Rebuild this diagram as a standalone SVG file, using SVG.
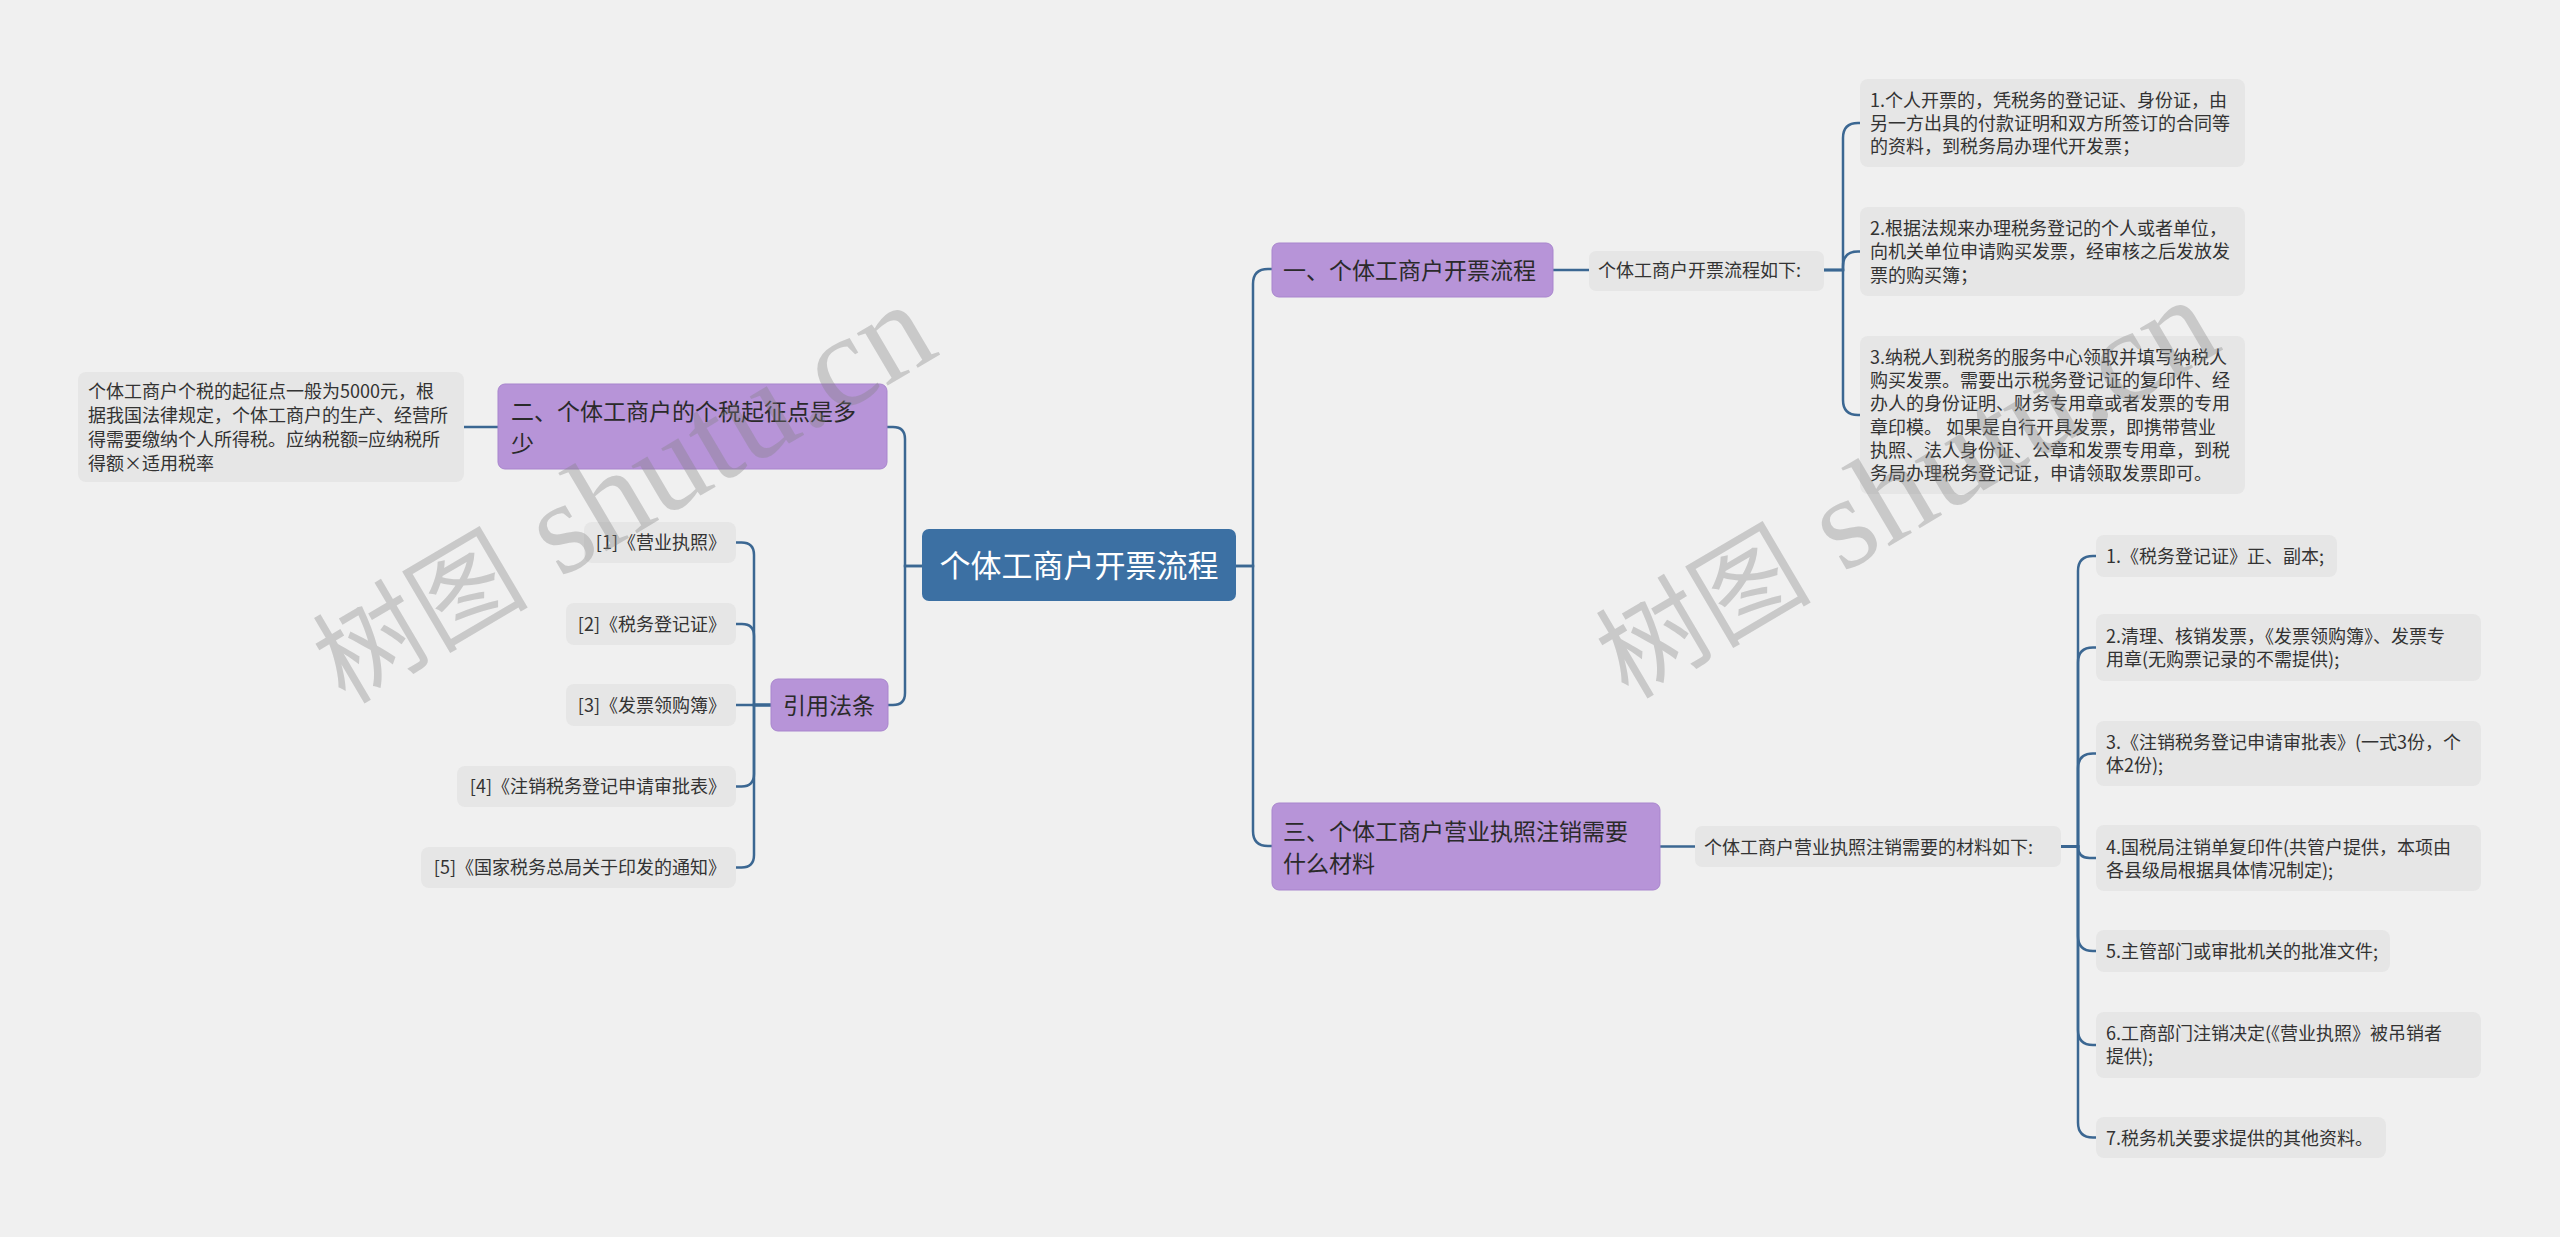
<svg xmlns="http://www.w3.org/2000/svg" width="2560" height="1237" viewBox="0 0 2560 1237">
<style>
.bg{fill:#f0f0f0}
.conn{fill:none;stroke:#3b6792;stroke-width:2.5}
.ctr{fill:#3c70a3}
.pur{fill:#b794d8;stroke:#a885cd;stroke-width:1}
.gry{fill:#e6e6e6}
text{font-family:"Noto Sans CJK SC","Noto Sans",sans-serif}
.t18{font-size:18px;fill:#333}
.t23{font-size:23px;fill:#2a2a2a}
.t31{font-size:31px;fill:#ffffff}
.wm{font-family:"Liberation Serif","Noto Sans CJK SC",serif;font-size:108px;fill:#808080;fill-opacity:0.35}
.wl{font-size:132px}
</style>
<rect class="bg" x="0" y="0" width="2560" height="1237"/>

<g id="connectors">
<path class="conn" d="M1236,566 H1253 V284 Q1253,269 1268,269 H1272"/>
<path class="conn" d="M1236,566 H1253 V831 Q1253,846 1268,846 H1272"/>
<path class="conn" d="M922,566 H905 V439 Q905,427 893,427 H887"/>
<path class="conn" d="M922,566 H905 V693 Q905,705 893,705 H888"/>
<path class="conn" d="M498,427 H464"/>
<path class="conn" d="M771,705 H754 V555 Q754,542.5 741.5,542.5 H736"/>
<path class="conn" d="M771,705 H754 V636 Q754,624 742,624 H736"/>
<path class="conn" d="M771,705 H736"/>
<path class="conn" d="M771,705 H754 V774 Q754,786.5 741.5,786.5 H736"/>
<path class="conn" d="M771,705 H754 V855 Q754,867.5 741.5,867.5 H736"/>
<path class="conn" d="M1553,270 H1589"/>
<path class="conn" d="M1824,270 H1843 V138 Q1843,123 1858,123 H1860"/>
<path class="conn" d="M1824,270 H1843 V266.5 Q1843,251.5 1858,251.5 H1860"/>
<path class="conn" d="M1824,270 H1843 V400 Q1843,415 1858,415 H1860"/>
<path class="conn" d="M1660,846.5 H1695"/>
<path class="conn" d="M2061,846.5 H2078 V571 Q2078,556 2093,556 H2096"/>
<path class="conn" d="M2061,846.5 H2078 V662.5 Q2078,647.5 2093,647.5 H2096"/>
<path class="conn" d="M2061,846.5 H2078 V768.5 Q2078,753.5 2093,753.5 H2096"/>
<path class="conn" d="M2061,846.5 H2078 V846.5 Q2078,858 2089.5,858 H2096"/>
<path class="conn" d="M2061,846.5 H2078 V936 Q2078,951 2093,951 H2096"/>
<path class="conn" d="M2061,846.5 H2078 V1030 Q2078,1045 2093,1045 H2096"/>
<path class="conn" d="M2061,846.5 H2078 V1122.5 Q2078,1137.5 2093,1137.5 H2096"/>
</g>

<g id="root">
<rect class="ctr" x="922" y="529" width="314" height="72" rx="7"/>
<text class="t31" x="1079" y="577" text-anchor="middle">个体工商户开票流程</text>
</g>

<g id="n1">
<rect class="pur" x="1272" y="243" width="281" height="54" rx="7"/>
<text class="t23" x="1283" y="279">一、个体工商户开票流程</text>
</g>
<g id="n1c">
<rect class="gry" x="1589" y="251" width="235" height="40" rx="7"/>
<text class="t18" x="1598" y="277">个体工商户开票流程如下:</text>
</g>
<g id="n1a">
<rect class="gry" x="1860" y="79" width="385" height="88" rx="8"/>
<text class="t18" x="1870" y="106.5">1.个人开票的，凭税务的登记证、身份证，由</text>
<text class="t18" x="1870" y="129.8">另一方出具的付款证明和双方所签订的合同等</text>
<text class="t18" x="1870" y="153">的资料，到税务局办理代开发票；</text>
</g>
<g id="n1b">
<rect class="gry" x="1860" y="207" width="385" height="89" rx="8"/>
<text class="t18" x="1870" y="235">2.根据法规来办理税务登记的个人或者单位，</text>
<text class="t18" x="1870" y="258.3">向机关单位申请购买发票，经审核之后发放发</text>
<text class="t18" x="1870" y="281.6">票的购买簿；</text>
</g>
<g id="n1d">
<rect class="gry" x="1860" y="336" width="385" height="158" rx="8"/>
<text class="t18" x="1870" y="363.6">3.纳税人到税务的服务中心领取并填写纳税人</text>
<text class="t18" x="1870" y="386.9">购买发票。需要出示税务登记证的复印件、经</text>
<text class="t18" x="1870" y="410.2">办人的身份证明、财务专用章或者发票的专用</text>
<text class="t18" x="1870" y="433.5">章印模。 如果是自行开具发票，即携带营业</text>
<text class="t18" x="1870" y="456.8">执照、法人身份证、公章和发票专用章，到税</text>
<text class="t18" x="1870" y="480.1">务局办理税务登记证，申请领取发票即可。</text>
</g>

<g id="n3">
<rect class="pur" x="1272" y="803" width="388" height="87" rx="7"/>
<text class="t23" x="1283" y="839.5">三、个体工商户营业执照注销需要</text>
<text class="t23" x="1283" y="871.5">什么材料</text>
</g>
<g id="n3c">
<rect class="gry" x="1695" y="826" width="366" height="41" rx="7"/>
<text class="t18" x="1704" y="853.5">个体工商户营业执照注销需要的材料如下:</text>
</g>
<g id="n3i1">
<rect class="gry" x="2096" y="535" width="241" height="42" rx="8"/>
<text class="t18" x="2106" y="563">1.《税务登记证》正、副本;</text>
</g>
<g id="n3i2">
<rect class="gry" x="2096" y="614" width="385" height="67" rx="8"/>
<text class="t18" x="2106" y="643">2.清理、核销发票，《发票领购簿》、发票专</text>
<text class="t18" x="2106" y="666">用章(无购票记录的不需提供);</text>
</g>
<g id="n3i3">
<rect class="gry" x="2096" y="721" width="385" height="65" rx="8"/>
<text class="t18" x="2106" y="749">3.《注销税务登记申请审批表》(一式3份，个</text>
<text class="t18" x="2106" y="772">体2份);</text>
</g>
<g id="n3i4">
<rect class="gry" x="2096" y="825" width="385" height="66" rx="8"/>
<text class="t18" x="2106" y="853.5">4.国税局注销单复印件(共管户提供，本项由</text>
<text class="t18" x="2106" y="876.8">各县级局根据具体情况制定);</text>
</g>
<g id="n3i5">
<rect class="gry" x="2096" y="930" width="294" height="42" rx="8"/>
<text class="t18" x="2106" y="958">5.主管部门或审批机关的批准文件;</text>
</g>
<g id="n3i6">
<rect class="gry" x="2096" y="1012" width="385" height="66" rx="8"/>
<text class="t18" x="2106" y="1040">6.工商部门注销决定(《营业执照》被吊销者</text>
<text class="t18" x="2106" y="1063">提供);</text>
</g>
<g id="n3i7">
<rect class="gry" x="2096" y="1117" width="290" height="41" rx="8"/>
<text class="t18" x="2106" y="1144.5">7.税务机关要求提供的其他资料。</text>
</g>

<g id="n2">
<rect class="pur" x="498" y="384" width="389" height="85" rx="7"/>
<text class="t23" x="511" y="419.5">二、个体工商户的个税起征点是多</text>
<text class="t23" x="511" y="451.5">少</text>
</g>
<g id="n2c">
<rect class="gry" x="78" y="372" width="386" height="110" rx="8"/>
<text class="t18" x="88" y="397.8">个体工商户个税的起征点一般为5000元，根</text>
<text class="t18" x="88" y="421.8">据我国法律规定，个体工商户的生产、经营所</text>
<text class="t18" x="88" y="445.8">得需要缴纳个人所得税。应纳税额=应纳税所</text>
<text class="t18" x="88" y="469.8">得额×适用税率</text>
</g>

<g id="nref">
<rect class="pur" x="771" y="679" width="117" height="52" rx="7"/>
<text class="t23" x="783" y="714">引用法条</text>
</g>
<g id="r1">
<rect class="gry" x="584" y="522" width="152" height="41" rx="8"/>
<text class="t18" x="726" y="549.3" text-anchor="end">[1]《营业执照》</text>
</g>
<g id="r2">
<rect class="gry" x="566" y="603" width="170" height="42" rx="8"/>
<text class="t18" x="726" y="630.8" text-anchor="end">[2]《税务登记证》</text>
</g>
<g id="r3">
<rect class="gry" x="566" y="684" width="170" height="42" rx="8"/>
<text class="t18" x="726" y="711.8" text-anchor="end">[3]《发票领购簿》</text>
</g>
<g id="r4">
<rect class="gry" x="457" y="766" width="279" height="41" rx="8"/>
<text class="t18" x="726" y="793.3" text-anchor="end">[4]《注销税务登记申请审批表》</text>
</g>
<g id="r5">
<rect class="gry" x="421" y="847" width="315" height="41" rx="8"/>
<text class="t18" x="726" y="874.3" text-anchor="end">[5]《国家税务总局关于印发的通知》</text>
</g>

<g id="watermarks">
<text class="wm" x="345" y="705" transform="rotate(-30.5 345 705)">树图<tspan class="wl"> shutu.cn</tspan></text>
<text class="wm" x="1628" y="700" transform="rotate(-30.5 1628 700)">树图<tspan class="wl"> shutu.cn</tspan></text>
</g>
</svg>
